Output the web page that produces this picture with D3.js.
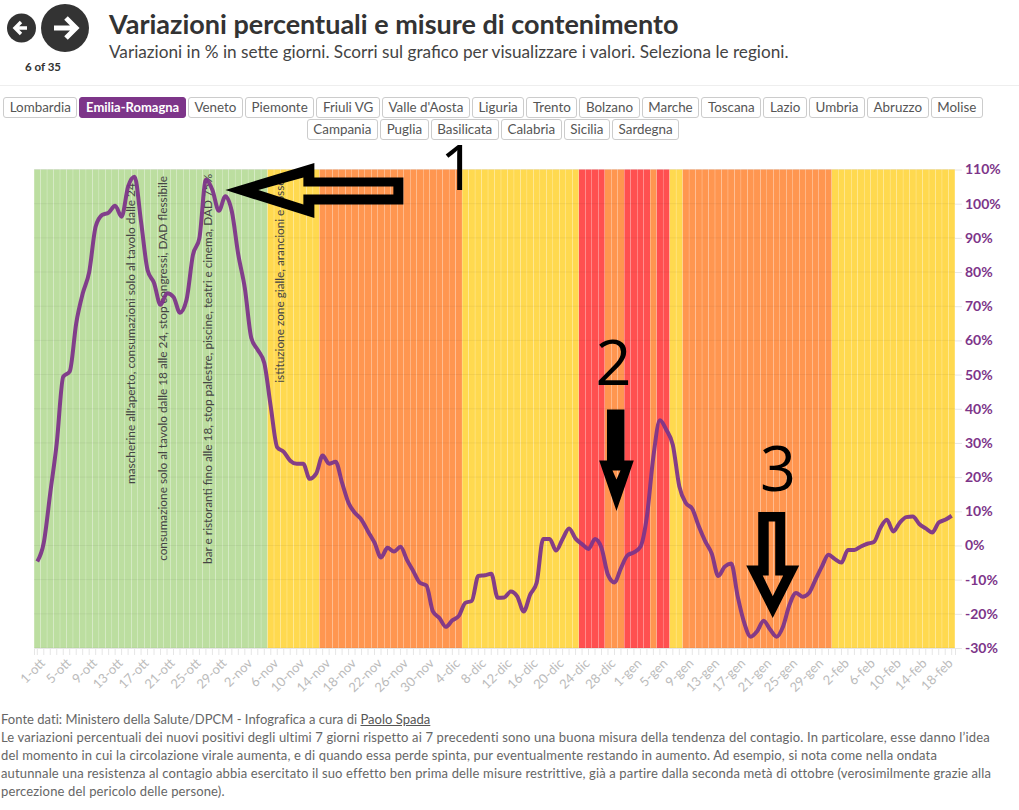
<!DOCTYPE html>
<html>
<head>
<meta charset="utf-8">
<script src="https://cdn.jsdelivr.net/npm/d3@7"></script>
<style>
body{margin:0;background:#fff;font-family:Lato,sans-serif;color:#333;width:1019px;height:810px;overflow:hidden;position:relative}
#title{position:absolute;left:109px;top:7px;font-size:27px;font-weight:700;color:#333;white-space:nowrap}
#subtitle{position:absolute;left:109px;top:41px;font-size:17.2px;color:#444;white-space:nowrap}
#rule{position:absolute;left:0;top:85px;width:1019px;height:1px;background:#eee}
#regions{position:absolute;left:0;top:97px;width:986px}
#regions .row{display:flex;justify-content:center;gap:2px;margin-bottom:1px}
#regions .btn{box-sizing:border-box;height:21px;line-height:19px;padding:0 5.6px;border:1px solid #ccc;border-radius:3px;font-size:13.4px;color:#555;background:#fff;white-space:nowrap}
#regions .btn.on{background:#7d3589;border-color:#7d3589;color:#fff;font-weight:700;font-size:13px}
#footer{position:absolute;left:1px;top:710px;font-size:13px;letter-spacing:0.15px;line-height:18px;color:#666;white-space:nowrap}
#footer .source{letter-spacing:0.02px}
#footer u{color:#555}
svg{position:absolute;left:0;top:0}
</style>
</head>
<body>
<svg id="chart" width="1019" height="810"></svg>
<div id="title"></div>
<div id="subtitle"></div>
<div id="rule"></div>
<div id="regions"></div>
<div id="footer"></div>
<script>
var titleText = "Variazioni percentuali e misure di contenimento"
var subtitleText = "Variazioni in % in sette giorni. Scorri sul grafico per visualizzare i valori. Seleziona le regioni."
var regionsTop = ["Lombardia","Emilia-Romagna","Veneto","Piemonte","Friuli VG","Valle d'Aosta","Liguria","Trento","Bolzano","Marche","Toscana","Lazio","Umbria","Abruzzo","Molise"]
var regionsBottom = ["Campania","Puglia","Basilicata","Calabria","Sicilia","Sardegna"]
var activeRegion = "Emilia-Romagna"

// day labels
var months = [["ott",31],["nov",30],["dic",31],["gen",31],["feb",19]]
var days = []
months.forEach(function(m){
	for(var i=1;i<=m[1];i++){ days.push(i+"-"+m[0]) }
})

// weekly % change, one value per day from 1-ott
var octValues = [-4.7,0.8,15.4,30,49.4,50.9,65,73.7,80,93.3,96.7,97.4,99.4,96.2,105,107.9,94.7,80.6,76.8,70.4,73.8,72.7,68.1,71.8,85,90,107,104,97.9,102.2,97.7]
var novValues = [85,75.3,60.7,57.2,53.4,40.6,28.7,27.4,24.8,23.9,23.9,19.5,21,26.3,23.9,24.5,18.3,12.4,9.5,7.5,4.1,0.8,-3.5,-0.7,-1.8,-0.4,-4.2,-7.6,-10.9,-11.7]
var decValues = [-19.3,-21.2,-23.8,-21.9,-20.6,-16.8,-16.2,-8.9,-8.7,-8.3,-15.3,-15.2,-13.5,-14.9,-19.3,-14.4,-10.9,1.9,1.9,-1.5,1.9,5,2,0.4,-1,1.9,-0.7,-8.6,-10.8,-6.6,-2.9]
var janValues = [-2,-0.4,8.5,26,36.6,33.8,29.4,17.3,12.4,10.7,5.6,1.2,-2.4,-8.9,-6.2,-5.3,-14.9,-22.6,-26.7,-25.1,-22,-24.6,-26.7,-23.7,-17.3,-13.9,-15,-13.9,-10,-6.1,-2.7]
var febValues = [-4,-5,-1.3,-1.3,-0.3,0.5,1,5.1,7.5,4.1,6.7,8.3,8.5,6.3,5,3.8,6.7,7.5,8.7]
var values = octValues.concat(novValues,decValues,janValues,febValues)

// restriction colour of each day, as [first day, zone]
var zoneStarts = [["1-ott","verde"],["6-nov","giallo"],["14-nov","arancio"],["6-dic","giallo"],["24-dic","rosso"],["28-dic","arancio"],["31-dic","rosso"],["4-gen","arancio"],["5-gen","rosso"],["7-gen","giallo"],["9-gen","arancio"],["1-feb","giallo"]]
var zoneColors = {verde:"#bcdea0",giallo:"#ffd94f",arancio:"#ff9650",rosso:"#ff5050"}

var yTicks = [-30,-20,-10,0,10,20,30,40,50,60,70,80,90,100,110]

// measures written along the chart: day, value where the text starts, text
var measureDays = ["16-ott","21-ott","28-ott","8-nov"]
var measureStarts = [18,-4.5,-5.4,47.6]
var measureTexts = ["mascherine all'aperto, consumazioni solo al tavolo dalle 24","consumazione solo al tavolo dalle 18 alle 24, stop congressi, DAD flessibile","bar e ristoranti fino alle 18, stop palestre, piscine, teatri e cinema, DAD 75%","istituzione zone gialle, arancioni e rosse"]

var footerSource = "Fonte dati: Ministero della Salute/DPCM - Infografica a cura di <u>Paolo Spada</u>"
var footerLines = ["Le variazioni percentuali dei nuovi positivi degli ultimi 7 giorni rispetto ai 7 precedenti sono una buona misura della tendenza del contagio. In particolare, esse danno l’idea",
"del momento in cui la circolazione virale aumenta, e di quando essa perde spinta, pur eventualmente restando in aumento. Ad esempio, si nota come nella ondata",
"autunnale una resistenza al contagio abbia esercitato il suo effetto ben prima delle misure restrittive, già a partire dalla seconda metà di ottobre (verosimilmente grazie alla",
"percezione del pericolo delle persone)."]

d3.select("#title").text(titleText)
d3.select("#subtitle").text(subtitleText)
d3.select("#footer").html('<span class="source">'+footerSource+"</span><br>"+footerLines.join("<br>"))
d3.select("#regions").selectAll(".row").data([regionsTop,regionsBottom]).enter().append("div")
	.attr("class","row")
	.selectAll(".btn").data(function(d){ return d }).enter().append("div")
	.attr("class",function(d){ return d==activeRegion?"btn on":"btn" })
	.text(function(d){ return d })

var purple = "#7d3589"
var svg = d3.select("#chart")

var x = d3.scaleBand().domain(days).range([34,955]).paddingInner(0.04).paddingOuter(0.03)
var y = d3.scaleLinear().domain([-30,110]).range([648,169.5])
function xMid(d){ return x(d)+x.bandwidth()/2 }

function zoneOf(day){
	var i = days.indexOf(day), zone = zoneStarts[0][1]
	zoneStarts.forEach(function(z){
		if(days.indexOf(z[0])<=i){ zone = z[1] }
	})
	return zone
}

// nav buttons
var nav = svg.append("g")
nav.append("circle").attr("cx",21.5).attr("cy",28).attr("r",14.5).style("fill","#333")
nav.append("circle").attr("cx",65).attr("cy",28).attr("r",24).style("fill","#333")
nav.append("path").attr("d","M27 28H16M21 22l-6 6 6 6").style("fill","none").style("stroke","#fff").style("stroke-width",3.4)
nav.append("path").attr("d","M54 28H75M66 18l10 10-10 10").style("fill","none").style("stroke","#fff").style("stroke-width",5)
nav.append("text").text("6 of 35").attr("x",43).attr("y",71).attr("text-anchor","middle")
	.style("font-size","11.5px").style("font-weight",700).style("fill","#333")

// background bars
svg.append("g").selectAll("rect").data(days).enter().append("rect")
	.attr("x",function(d){ return x(d) })
	.attr("y",y(110))
	.attr("width",x.bandwidth())
	.attr("height",y(-30)-y(110))
	.style("fill",function(d){ return zoneColors[zoneOf(d)] })

// gridlines
svg.append("g").selectAll("line").data(yTicks).enter().append("line")
	.attr("x1",34).attr("x2",955)
	.attr("y1",function(d){ return y(d) }).attr("y2",function(d){ return y(d) })
	.style("stroke","#000").style("stroke-opacity",0.05)

// axes
var xAxis = svg.append("g").attr("transform","translate(0,648)")
	.call(d3.axisBottom(x).tickSize(7).tickFormat(function(d,i){ return i%4==0?d:"" }))
xAxis.select(".domain").style("stroke","#e6e6e6")
xAxis.selectAll("line").style("stroke","#e6e6e6")
xAxis.selectAll("text")
	.attr("text-anchor","end").attr("dy",0).attr("y",0)
	.attr("transform","translate(8.5,16) rotate(-45)")
	.style("font-family","Lato,sans-serif").style("font-size","13px").style("fill","#bbb")

var yAxis = svg.append("g").attr("transform","translate(955,0)")
	.call(d3.axisRight(y).tickValues(yTicks).tickSize(7).tickPadding(3).tickFormat(function(d){ return d+"%" }))
yAxis.select(".domain").remove()
yAxis.selectAll("line").style("stroke","#e6e6e6")
yAxis.selectAll("text")
	.style("font-family","Lato,sans-serif").style("font-size","14px").style("font-weight",700).style("fill",purple)

// measures
svg.append("g").selectAll("text").data(measureTexts).enter().append("text")
	.text(function(d){ return d })
	.attr("transform",function(d,i){ return "translate("+xMid(measureDays[i])+","+y(measureStarts[i])+") rotate(-90)" })
	.style("font-size","11.8px").style("fill","#444")

// line
var line = d3.line()
	.x(function(d,i){ return xMid(days[i]) })
	.y(function(d){ return y(d) })
	.curve(d3.curveMonotoneX)
svg.append("path").datum(values).attr("d",line)
	.style("fill","none").style("stroke",purple).style("stroke-width",4).style("stroke-opacity",0.95)

// pasted-on arrows and numbers, offsets from the arrow tip
var arrows = [
	{day:"30-ott",value:104,dx:0,shape:"M0 0L89 -27V-12.5H178V14.5H89V28ZM33 0L78 -12.5V-3.5H168V4.5H78V14.5Z"},
	{day:"29-dic",value:10.1,dx:2,shape:"M0 0L17.3 -50.5H8V-101.5H-9.5V-50.5H-17.3ZM0 -31.5L-4 -40.5H4Z"},
	{day:"22-gen",value:-21.2,dx:2.6,shape:"M0 0L26.5 -52.5H12.5V-106H-14.5V-52.5H-26.5ZM0 -21.7L10.5 -42.5H2.5V-96.5H-4V-42.5H-10Z"}
]
svg.append("g").selectAll("path").data(arrows).enter().append("path")
	.attr("d",function(d){ return d.shape })
	.attr("fill-rule","evenodd")
	.attr("transform",function(d){ return "translate("+(xMid(d.day)+d.dx)+","+y(d.value)+")" })
	.style("fill","#000")

var markNumbers = ["1","2","3"]
var markX = [458,613.5,778]
var markY = [190,385,491]
svg.append("g").selectAll("text").data(markNumbers).enter().append("text")
	.text(function(d){ return d })
	.attr("x",function(d,i){ return markX[i] })
	.attr("y",function(d,i){ return markY[i] })
	.attr("text-anchor","middle")
	.style("font-family","'Open Sans'").style("font-size","63px").style("fill","#000")
</script>
</body>
</html>
